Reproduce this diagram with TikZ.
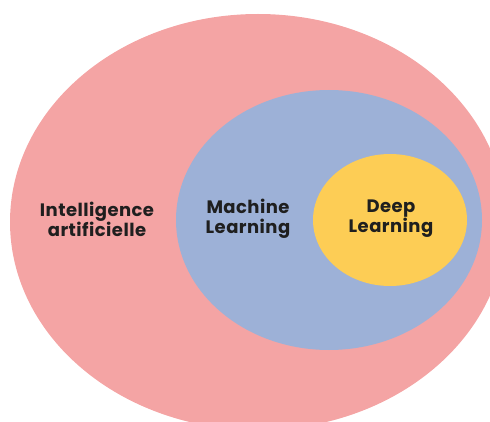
\documentclass[tikz,border=0pt]{standalone}
\usepackage{fontspec}
\setmainfont[LetterSpace=2.5]{Poppins}
\usetikzlibrary{shapes.geometric}
\definecolor{iapink}{HTML}{F4A4A4}
\definecolor{mlblue}{HTML}{9DB1D7}
\definecolor{dlyellow}{HTML}{FDCD55}
\tikzset{>=stealth}
\tikzset{zone/.style={ellipse, inner sep=0pt},
  lbl/.style={font=\bfseries\fontsize{18}{20}\selectfont, align=center, text=black!88}}

\begin{document}
\begin{tikzpicture}[x=1pt,y=1pt]
\useasboundingbox (0,0) rectangle (490,421);
% nested sets
\node[zone, fill=iapink, minimum width=496pt, minimum height=416pt] (ia) at (258,199) {};
\node[zone, fill=mlblue, minimum width=306pt, minimum height=260pt] (ml) at (329,201) {};
\node[zone, fill=dlyellow, minimum width=154pt, minimum height=132pt] (dl) at (390,201) {};
% labels
\node[lbl] (tia) at (97,202) {Intelligence\\artificielle};
\node[lbl] (tml) at (248,202) {Machine\\Learning};
\node[lbl] (tdl) at (391,202) {Deep\\Learning};
\end{tikzpicture}
\end{document}
